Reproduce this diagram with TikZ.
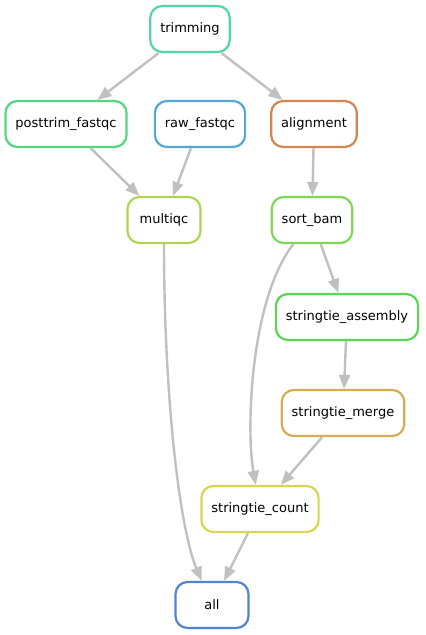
\documentclass[tikz,border=0pt]{standalone}
\usepackage{fontspec}
\setmainfont{DejaVu Sans}
\usetikzlibrary{arrows.meta}
\definecolor{ctrim}{HTML}{52D6A8}
\definecolor{cpost}{HTML}{52D67F}
\definecolor{craw}{HTML}{52A8D6}
\definecolor{calign}{HTML}{D6844F}
\definecolor{cmulti}{HTML}{AED652}
\definecolor{csort}{HTML}{7ED652}
\definecolor{cassem}{HTML}{59D652}
\definecolor{cmerge}{HTML}{D6AD52}
\definecolor{ccount}{HTML}{D6D652}
\definecolor{call}{HTML}{5282D6}
\definecolor{cedge}{HTML}{C0C0C0}
\tikzset{
	rule/.style={draw=#1, line width=2.2pt, rounded corners=12pt, fill=white,
		minimum width=73pt, minimum height=46pt, inner xsep=10pt,
		font=\fontsize{13}{15}\selectfont},
	dep/.style={draw=cedge, line width=2.4pt, -{Triangle[length=14pt,width=11pt]}}
}
\begin{document}
	\begin{tikzpicture}[x=1pt,y=-1pt]
		\useasboundingbox (0,0) rectangle (426,635);
		
		\node[rule=ctrim] (trimming) at (190,29) {trimming};
		\node[rule=cpost] (posttrim) at (66,124) {posttrim\_fastqc};
		\node[rule=craw] (raw) at (200,124) {raw\_fastqc};
		\node[rule=calign] (alignment) at (314,124) {alignment};
		\node[rule=cmulti] (multiqc) at (164,220) {multiqc};
		\node[rule=csort] (sortbam) at (312,220) {sort\_bam};
		\node[rule=cassem] (assembly) at (347,317) {stringtie\_assembly};
		\node[rule=cmerge] (merge) at (343,413) {stringtie\_merge};
		\node[rule=ccount] (count) at (260,509) {stringtie\_count};
		\node[rule=call] (all) at (212,605) {all};
		
		\draw[dep] (trimming) -- (posttrim);
		\draw[dep] (trimming) -- (alignment);
		\draw[dep] (posttrim) -- (multiqc);
		\draw[dep] (raw) -- (multiqc);
		\draw[dep] (alignment) -- (sortbam);
		\draw[dep] (sortbam) -- (assembly);
		\draw[dep] (assembly) -- (merge);
		\draw[dep] (merge) -- (count);
		\draw[dep] (count) -- (all);
		\draw[dep] (multiqc) .. controls (164,400) and (180,530) .. (all);
		\draw[dep] (sortbam) .. controls (250,300) and (246,430) .. (count);
	\end{tikzpicture}
\end{document}
